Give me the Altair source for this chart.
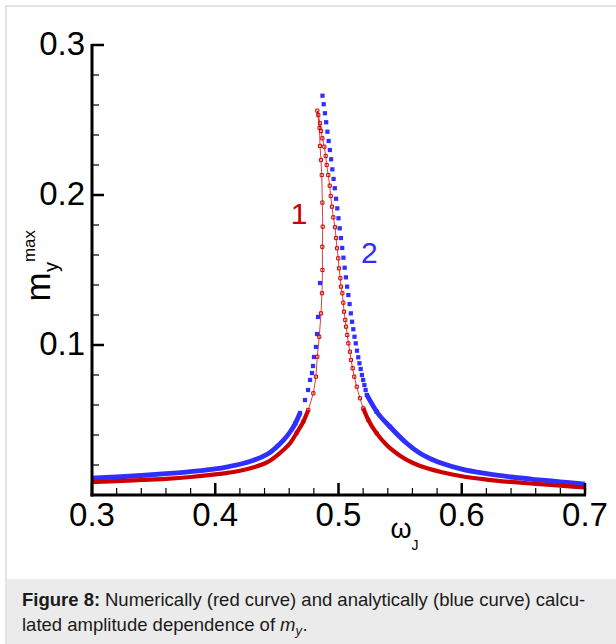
import altair as alt
import pandas as pd

# ---------------- data ----------------
# curve 1 (numerical, red): traversal order, left tail -> peak -> right tail
red_w = [0.300, 0.320, 0.340, 0.360, 0.380, 0.400, 0.410, 0.420, 0.430, 0.440,
         0.445, 0.450, 0.455, 0.4607, 0.4661, 0.4715, 0.4755, 0.4796,
         0.4817, 0.4828, 0.4844, 0.4858, 0.4866, 0.4870, 0.4869, 0.4872, 0.4869, 0.4864,
         0.4858, 0.4850, 0.4846, 0.4828,
         0.4836, 0.4850, 0.4858, 0.4869, 0.4885, 0.4896, 0.4904, 0.4917, 0.4929, 0.4937,
         0.4947, 0.4958, 0.4972, 0.4980, 0.4988, 0.4998, 0.5004, 0.5015, 0.5020, 0.5031,
         0.5039, 0.5045, 0.5055, 0.5061, 0.5071, 0.5080, 0.5093, 0.5101, 0.5115, 0.5128,
         0.5148, 0.5174, 0.5201, 0.5242, 0.5310, 0.5391, 0.5499, 0.560, 0.570, 0.585,
         0.600, 0.620, 0.640, 0.660, 0.680, 0.700]
red_m = [0.0087, 0.0092, 0.0100, 0.0108, 0.0120, 0.0137, 0.0148, 0.0162, 0.0182, 0.0210,
         0.0232, 0.0262, 0.0298, 0.0345, 0.0415, 0.0490, 0.0567, 0.0678,
         0.0789, 0.0922, 0.1055, 0.1211, 0.1345, 0.1500, 0.1655, 0.1789, 0.1949, 0.2133,
         0.2233, 0.2327, 0.2447, 0.2562,
         0.2533, 0.2478, 0.2427, 0.2378, 0.2322, 0.2260, 0.2200, 0.2133, 0.2062, 0.1993,
         0.1922, 0.1851, 0.1785, 0.1713, 0.1645, 0.1578, 0.1511, 0.1445, 0.1389, 0.1345,
         0.1282, 0.1222, 0.1167, 0.1122, 0.1067, 0.1011, 0.0955, 0.0900, 0.0845, 0.0789,
         0.0722, 0.0645, 0.0578, 0.0500, 0.0411, 0.0333, 0.0262, 0.0215, 0.0183, 0.0150,
         0.0125, 0.0103, 0.0087, 0.0074, 0.0062, 0.0050]

# curve 2 (analytical, blue)
blue_w = [0.300, 0.320, 0.340, 0.360, 0.380, 0.400, 0.410, 0.420, 0.430, 0.440,
          0.445, 0.450, 0.455, 0.4607, 0.465, 0.4688, 0.4728, 0.4753,
          0.4769, 0.4785, 0.4793, 0.4801, 0.4817, 0.4826, 0.4834, 0.4850,
          0.487, 0.488, 0.489, 0.490, 0.491, 0.492, 0.493, 0.494, 0.495, 0.496,
          0.497, 0.498, 0.499, 0.500, 0.501, 0.502, 0.503, 0.504, 0.505, 0.506,
          0.507, 0.508, 0.509, 0.510, 0.511, 0.512, 0.513, 0.514, 0.515, 0.516,
          0.517, 0.518, 0.519, 0.520, 0.521, 0.522, 0.523,
          0.5310, 0.5418, 0.5553, 0.5661, 0.575, 0.585, 0.600, 0.620, 0.640, 0.660,
          0.680, 0.700]
blue_m = [0.0113, 0.0120, 0.0130, 0.0142, 0.0156, 0.0174, 0.0188, 0.0205, 0.0228, 0.0262,
          0.0287, 0.0322, 0.0362, 0.0420, 0.0478, 0.0547, 0.0633, 0.0700,
          0.0767, 0.0813, 0.0860, 0.0920, 0.0987, 0.1073, 0.1187, 0.1413,
          0.2662, 0.2605, 0.2545, 0.2485, 0.2422, 0.2360, 0.2300, 0.2238, 0.2171, 0.2107,
          0.2045, 0.1975, 0.1911, 0.1845, 0.1778, 0.1713, 0.1647, 0.1582, 0.1515, 0.1451,
          0.1389, 0.1333, 0.1273, 0.1211, 0.1155, 0.1105, 0.1055, 0.1011, 0.0962, 0.0918,
          0.0878, 0.0840, 0.0800, 0.0767, 0.0733, 0.0700, 0.0667,
          0.0555, 0.0455, 0.0345, 0.0278, 0.0240, 0.0208, 0.0172, 0.0142, 0.0120, 0.0103,
          0.0088, 0.0073]

x_major = [0.3, 0.4, 0.5, 0.6, 0.7]
x_minor = [0.32, 0.34, 0.36, 0.38, 0.42, 0.44, 0.46, 0.48, 0.52, 0.54, 0.56, 0.58,
           0.62, 0.64, 0.66, 0.68]
y_major = [0.1, 0.2, 0.3]
y_minor = [0.02, 0.04, 0.06, 0.08, 0.12, 0.14, 0.16, 0.18, 0.22, 0.24, 0.26, 0.28]

curve_labels = ["1", "2"]
label_w = [0.468, 0.525]
label_m = [0.187, 0.161]

RED = "#cc0000"
BLUE = "#2f2fff"
FONT = "Liberation Sans"
W, H = 493, 450

red = pd.DataFrame({"w": red_w, "m": red_m, "i": range(len(red_w))})
blue = pd.DataFrame({"w": blue_w, "m": blue_m, "i": range(len(blue_w))})

xs = alt.Scale(domain=[0.3, 0.7], nice=False, zero=False)
ys = alt.Scale(domain=[0, 0.3], nice=False, zero=False)
X = alt.X("w:Q", scale=xs, axis=None)
Y = alt.Y("m:Q", scale=ys, axis=None)

side = "datum.w < 0.487 ? 'L' : 'R'"

red_thin = alt.Chart(red).mark_line(color=RED, strokeWidth=1, opacity=0.75).encode(
    x=X, y=Y, order="i:Q")
red_thick = alt.Chart(red).transform_calculate(side=side).transform_filter(
    "datum.m < 0.058").mark_line(color=RED, strokeWidth=4.2, interpolate="monotone").encode(
    x=X, y=Y, order="i:Q", detail="side:N")
red_pts = alt.Chart(red).transform_filter("datum.m >= 0.04").mark_point(
    shape="square", filled=False, color=RED, size=10, strokeWidth=1, opacity=1).encode(x=X, y=Y)

blue_thick = alt.Chart(blue).transform_calculate(side=side).transform_filter(
    "(datum.side == 'L' && datum.m < 0.056) || (datum.side == 'R' && datum.m < 0.068)").mark_line(
    color=BLUE, strokeWidth=4.8, interpolate="monotone").encode(
    x=X, y=Y, order="i:Q", detail="side:N")
blue_pts = alt.Chart(blue).transform_filter("datum.m >= 0.045").mark_square(
    color=BLUE, size=18, opacity=1).encode(x=X, y=Y)

# axes drawn by hand (ticks point inward)
axes_x = alt.Chart(pd.DataFrame({"w": x_major})).mark_text(
    font=FONT, fontSize=33, baseline="top", dy=5, color="black").encode(
    x=alt.X("w:Q", scale=xs, axis=None), y=alt.value(H), text=alt.Text("w:Q", format=".1f"))
axes_y = alt.Chart(pd.DataFrame({"m": y_major})).mark_text(
    font=FONT, fontSize=33, baseline="middle", align="right", dx=-7, color="black").encode(
    y=alt.Y("m:Q", scale=ys, axis=None), x=alt.value(0), text=alt.Text("m:Q", format=".1f"))

xt_major = alt.Chart(pd.DataFrame({"w": x_major})).mark_rule(color="black", strokeWidth=2.5).encode(
    x=alt.X("w:Q", scale=xs, axis=None), y=alt.value(H), y2=alt.value(H - 12))
xt_minor = alt.Chart(pd.DataFrame({"w": x_minor})).mark_rule(color="black", strokeWidth=1.2).encode(
    x=alt.X("w:Q", scale=xs, axis=None), y=alt.value(H), y2=alt.value(H - 7))
yt_major = alt.Chart(pd.DataFrame({"m": y_major})).mark_rule(color="black", strokeWidth=2.5).encode(
    y=alt.Y("m:Q", scale=ys, axis=None), x=alt.value(0), x2=alt.value(12))
yt_minor = alt.Chart(pd.DataFrame({"m": y_minor})).mark_rule(color="black", strokeWidth=1.2).encode(
    y=alt.Y("m:Q", scale=ys, axis=None), x=alt.value(0), x2=alt.value(7))

x_line = alt.Chart(pd.DataFrame({"a": [0]})).mark_rule(color="black", strokeWidth=3).encode(
    x=alt.value(-1.5), x2=alt.value(W + 1), y=alt.value(H))
y_line = alt.Chart(pd.DataFrame({"a": [0]})).mark_rule(color="black", strokeWidth=3).encode(
    x=alt.value(0), y=alt.value(-1), y2=alt.value(H + 1.5))

lab = pd.DataFrame({"w": label_w, "m": label_m, "t": curve_labels})
curve_text = alt.Chart(lab).mark_text(font=FONT, fontSize=30, baseline="middle").encode(
    x=alt.X("w:Q", scale=xs, axis=None), y=alt.Y("m:Q", scale=ys, axis=None), text="t:N",
    color=alt.Color("t:N", scale=alt.Scale(domain=curve_labels, range=[RED, BLUE]), legend=None))

def txt(s, x, y, size, **kw):
    return alt.Chart(pd.DataFrame({"t": [s]})).mark_text(
        font=FONT, fontSize=size, color=kw.pop("color", "black"), **kw).encode(
        x=alt.value(x), y=alt.value(y), text="t:N")

# axis titles
om = txt("ω", 309, 493, 27, baseline="alphabetic", align="center")
omJ = txt("J", 323, 505, 14, baseline="alphabetic", align="center")
ym = txt("m", -42, 242, 35, angle=270, baseline="alphabetic", align="center")
yy = txt("y", -34, 222, 20, angle=270, baseline="alphabetic", align="center")
ymax = txt("max", -57, 201, 17, angle=270, baseline="alphabetic", align="center")

# frame and caption box
frame = alt.Chart(pd.DataFrame({"a": [0]})).mark_rect(
    fill="white", stroke="#dcdcdc", strokeWidth=1.5).encode(
    x=alt.value(-86), x2=alt.value(540), y=alt.value(-39), y2=alt.value(620))
capbox = alt.Chart(pd.DataFrame({"a": [0]})).mark_rect(fill="#ebebeb").encode(
    x=alt.value(-85), x2=alt.value(540), y=alt.value(534), y2=alt.value(620))
CF = 18.5
CC = "#1a1a1a"
cap1a = txt("Figure 8:", -70, 561, CF, fontWeight="bold", align="left", baseline="alphabetic",
            color=CC)
cap1b = txt("Numerically (red curve) and analytically (blue curve) calcu-", 13, 561, CF,
            align="left", baseline="alphabetic", color=CC)
cap2a = txt("lated amplitude dependence of ", -70, 586, CF, align="left",
            baseline="alphabetic", color=CC)
cap2b = txt("m", 188, 586, CF, align="left", baseline="alphabetic", fontStyle="italic", color=CC)
cap2c = txt("y", 203.5, 590, 13, align="left", baseline="alphabetic", fontStyle="italic", color=CC)
cap2d = txt(".", 210.5, 586, CF, align="left", baseline="alphabetic", color=CC)

chart = alt.layer(
    frame, capbox,
    blue_thick, red_thick, red_thin, blue_pts, red_pts,
    x_line, y_line, xt_major, xt_minor, yt_major, yt_minor,
    axes_x, axes_y, curve_text, om, omJ, ym, yy, ymax,
    cap1a, cap1b, cap2a, cap2b, cap2c, cap2d,
).properties(
    width=W, height=H,
    autosize=alt.AutoSizeParams(type="none"),
    padding={"left": 92, "top": 45, "right": 31, "bottom": 149},
).configure_view(stroke=None)

chart.save("out.html", embed_options={"renderer": "svg", "actions": False})
